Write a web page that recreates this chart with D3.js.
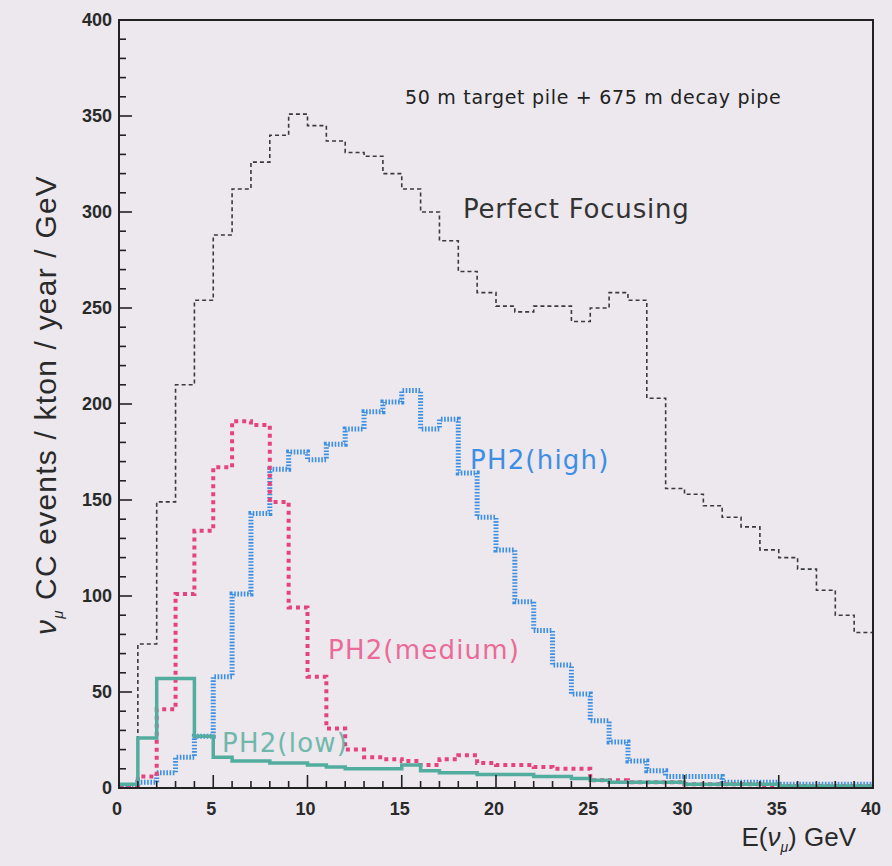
<!DOCTYPE html>
<html>
<head>
<meta charset="utf-8">
<script src="https://cdn.jsdelivr.net/npm/d3@7"></script>
<style>
  body { margin: 0; background: #ece8ee; }
  svg { display: block; }
</style>
</head>
<body>
<div id="chart"></div>
<script>

var width = 892,
    height = 866;

// bin edges are 1 GeV wide, 0..40
var perfect = [2, 75, 149, 210, 254, 288, 312, 326, 340, 351,
               345, 337, 331, 329, 320, 312, 300, 285, 269, 258,
               251, 248, 251, 251, 243, 250, 258, 254, 203, 156,
               153, 147, 141, 136, 124, 120, 114, 103, 90, 81];

var high = [1, 3, 8, 16, 27, 58, 101, 143, 166, 175,
            171, 179, 187, 196, 201, 207, 187, 192, 164, 141,
            124, 97, 82, 64, 49, 35, 24, 14, 9, 6,
            6, 6, 3, 3, 3, 2, 2, 2, 2, 2];

var medium = [1, 6, 41, 101, 134, 167, 191, 189, 149, 94,
              58, 31, 20, 16, 15, 14, 12, 15, 17, 13,
              12, 12, 11, 10, 10, 4, 4, 3, 3, 3,
              2, 2, 2, 2, 1, 1, 1, 1, 1, 1];

var low = [2, 26, 57, 57, 27, 16, 14, 14, 13, 13,
           12, 11, 10, 10, 10, 12, 9, 8, 8, 7,
           7, 7, 6, 6, 5, 4, 3, 3, 3, 3,
           2, 2, 2, 2, 2, 1, 1, 1, 1, 1];

var xTicks = [0, 5, 10, 15, 20, 25, 30, 35, 40];
var yTicks = [0, 50, 100, 150, 200, 250, 300, 350, 400];

var x = d3.scaleLinear().domain([0, 40]).range([119, 873]);
var y = d3.scaleLinear().domain([0, 400]).range([788, 20]);

var svg = d3.select("#chart").append("svg")
    .attr("width", width)
    .attr("height", height);

svg.append("rect")
    .attr("width", width)
    .attr("height", height)
    .attr("fill", "#ece8ee");

svg.append("clipPath")
    .attr("id", "plotclip")
  .append("rect")
    .attr("x", x(0))
    .attr("y", y(400))
    .attr("width", x(40) - x(0))
    .attr("height", y(0) - y(400));

var line = d3.line()
    .x(function(d) { return x(d[0]); })
    .y(function(d) { return y(d[1]); })
    .curve(d3.curveStepAfter);

function steps(vals) {
  var pts = vals.map(function(v, i) { return [i, v]; });
  pts.push([vals.length, vals[vals.length - 1]]);
  return pts;
}

var g = svg.append("g").attr("clip-path", "url(#plotclip)");

// perfect focusing
g.append("path")
    .attr("d", line(steps(perfect)))
    .attr("fill", "none")
    .attr("stroke", "#3a3a3a")
    .attr("stroke-width", 1.6)
    .attr("stroke-dasharray", "4,3");

// PH2 high
g.append("path")
    .attr("d", line(steps(high)))
    .attr("fill", "none")
    .attr("stroke", "#3d8fe3")
    .attr("stroke-width", 5)
    .attr("stroke-dasharray", "1.6,1.6");

// PH2 medium
g.append("path")
    .attr("d", line(steps(medium)))
    .attr("fill", "none")
    .attr("stroke", "#e6437d")
    .attr("stroke-width", 4)
    .attr("stroke-dasharray", "4,4");

// PH2 low
g.append("path")
    .attr("d", line(steps(low)))
    .attr("fill", "none")
    .attr("stroke", "#52ad9e")
    .attr("stroke-width", 3.5);

// frame
svg.append("rect")
    .attr("x", x(0))
    .attr("y", y(400))
    .attr("width", x(40) - x(0))
    .attr("height", y(0) - y(400))
    .attr("fill", "none")
    .attr("stroke", "#222")
    .attr("stroke-width", 2);

// minor + major ticks, pointing inward
var yMinor = d3.range(0, 401, 10);
svg.selectAll(".ytick")
    .data(yMinor)
  .enter().append("line")
    .attr("x1", x(0))
    .attr("x2", function(d) { return x(0) + (d % 50 === 0 ? 13 : 7); })
    .attr("y1", function(d) { return y(d); })
    .attr("y2", function(d) { return y(d); })
    .attr("stroke", "#222")
    .attr("stroke-width", 1.6);

var xMinor = d3.range(0, 41, 1);
svg.selectAll(".xtick")
    .data(xMinor)
  .enter().append("line")
    .attr("x1", function(d) { return x(d); })
    .attr("x2", function(d) { return x(d); })
    .attr("y1", y(0))
    .attr("y2", function(d) { return y(0) - (d % 5 === 0 ? 13 : 7); })
    .attr("stroke", "#222")
    .attr("stroke-width", 1.6);

svg.selectAll(".ylab")
    .data(yTicks)
  .enter().append("text")
    .attr("x", 112)
    .attr("y", function(d) { return y(d) + 6; })
    .attr("text-anchor", "end")
    .style("font-family", "Liberation Sans, Arial, sans-serif")
    .style("font-size", "18px")
    .style("font-weight", "bold")
    .attr("fill", "#2a2a2a")
    .text(function(d) { return d; });

svg.selectAll(".xlab")
    .data(xTicks)
  .enter().append("text")
    .attr("x", function(d) { return x(d) - 2; })
    .attr("y", 815)
    .attr("text-anchor", "middle")
    .style("font-family", "Liberation Sans, Arial, sans-serif")
    .style("font-size", "18px")
    .style("font-weight", "bold")
    .attr("fill", "#2a2a2a")
    .text(function(d) { return d; });

// axis titles
var ylab = svg.append("text")
    .attr("transform", "translate(56,405)rotate(-90)")
    .attr("text-anchor", "middle")
    .style("font-family", "Liberation Sans, Arial, sans-serif")
    .style("font-size", "30px")
    .style("letter-spacing", "1.2px")
    .attr("fill", "#2a2a2a");
ylab.append("tspan").style("font-style", "italic").text("ν");
ylab.append("tspan").attr("dy", 7).style("font-size", "15px").style("font-style", "italic").text("μ");
ylab.append("tspan").attr("dy", -7).text(" CC events / kton / year / GeV");

var xlab = svg.append("text")
    .attr("x", 856)
    .attr("y", 846)
    .attr("text-anchor", "end")
    .style("font-family", "Liberation Sans, Arial, sans-serif")
    .style("font-size", "26px")
    .attr("fill", "#2a2a2a");
xlab.append("tspan").text("E(");
xlab.append("tspan").style("font-style", "italic").text("ν");
xlab.append("tspan").attr("dy", 6).style("font-size", "14px").style("font-style", "italic").text("μ");
xlab.append("tspan").attr("dy", -6).text(") GeV");

// annotations
function note(txt, px, py, size, spacing, color) {
  svg.append("text")
      .attr("x", px)
      .attr("y", py)
      .style("font-family", "DejaVu Sans, sans-serif")
      .style("font-size", size + "px")
      .style("letter-spacing", spacing + "px")
      .attr("fill", color)
      .text(txt);
}

note("50 m target pile + 675 m decay pipe", 405, 104, 19, 0.7, "#222");
note("Perfect Focusing", 463, 218, 26, 0.8, "#333");
note("PH2(high)", 470, 469, 26, 1.2, "#3d8fe3");
note("PH2(medium)", 328, 659, 26, 1.2, "#ea6b98");
note("PH2(low)", 222, 752, 26, 1.2, "#6fb8ab");

</script>
</body>
</html>
